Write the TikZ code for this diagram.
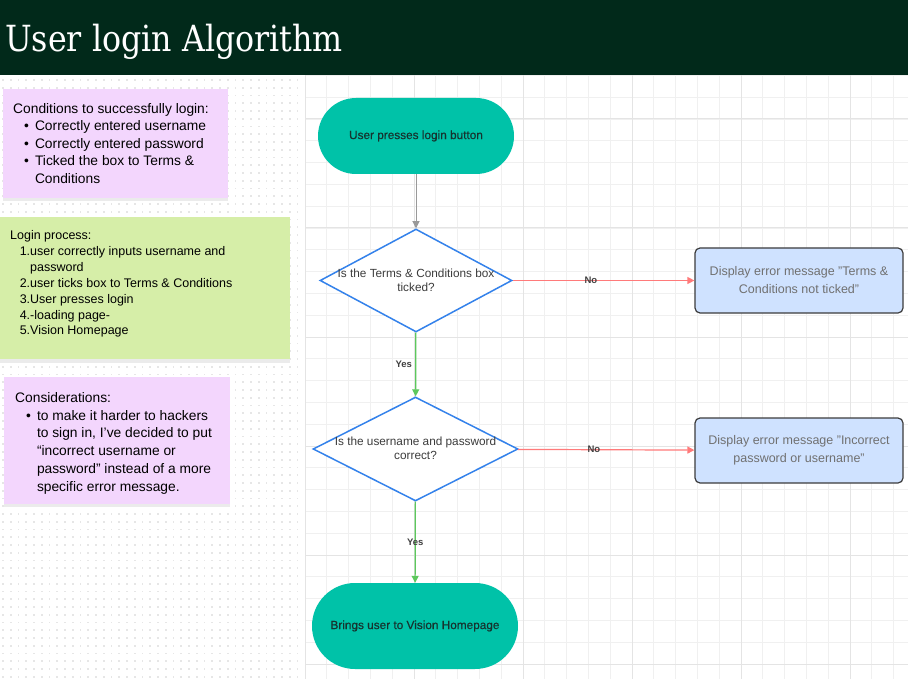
\documentclass[tikz,border=0pt]{standalone}
\usepackage{fontspec}
\setmainfont{Liberation Sans}
\newfontfamily\titlefont[FakeStretch=0.88]{DejaVu Serif}
\newfontfamily\flowfont[FakeBold=0.5]{Liberation Sans}
\usetikzlibrary{shapes.geometric,positioning,arrows.meta}

\definecolor{headbg}{RGB}{1,41,26}
\definecolor{notepink}{RGB}{243,214,253}
\definecolor{notegreen}{RGB}{214,238,168}
\definecolor{termteal}{RGB}{0,194,168}
\definecolor{termtext}{RGB}{22,52,47}
\definecolor{decblue}{RGB}{52,130,235}
\definecolor{dectext}{RGB}{60,60,60}
\definecolor{nored}{RGB}{255,122,122}
\definecolor{yesgreen}{RGB}{92,200,92}
\definecolor{errfill}{RGB}{207,226,255}
\definecolor{errdraw}{RGB}{60,60,60}
\definecolor{errtext}{RGB}{112,112,112}
\definecolor{gridminor}{RGB}{240,240,240}
\definecolor{gridmajor}{RGB}{228,228,228}
\definecolor{dotgray}{RGB}{230,230,230}

\newcommand{\itm}[1]{\hspace*{11pt}\textbullet\hspace{6pt}#1}

\begin{document}
\begin{tikzpicture}[x=1pt,y=-1pt,>={Triangle[length=7pt,width=7pt]},
	notebox/.style={rectangle,anchor=north west,inner sep=0pt},
	notetext/.style={anchor=north west,inner sep=0pt,align=left,text=black},
	terminal/.style={rectangle,fill=termteal,text=termtext,font=\flowfont\fontsize{11.8}{14}\selectfont},
	decision/.style={diamond,draw=decblue,line width=1.5pt,fill=white,inner sep=0pt},
	decision text/.style={align=center,text=dectext,font=\fontsize{11.8}{13.6}\selectfont},
	errbox/.style={rectangle,rounded corners=5pt,draw=errdraw,line width=1.2pt,fill=errfill,text=errtext,align=center,minimum width=208pt,minimum height=65pt,font=\fontsize{12.5}{18}\selectfont},
	lbl/.style={font=\bfseries\fontsize{9.5}{10}\selectfont,text=black!75,inner sep=1pt},
	flowgray/.style={->,draw=black!40,line width=1pt},
	flowred/.style={->,draw=nored,line width=1.2pt},
	flowgreen/.style={->,draw=yesgreen,line width=1.2pt}]
	\useasboundingbox (0,0) rectangle (908,679);
	% background
	\fill[white] (0,0) rectangle (908,679);
	\foreach \i in {0,...,38}
		\foreach \j in {0,...,77}
			\fill[dotgray] ({3+7.75*\i-0.8},{80+7.75*\j-0.8}) rectangle +(1.6,1.6);
	\foreach \k in {0,...,27}
		\draw[gridminor,line width=0.8pt] ({305+21.8*\k},75) -- ({305+21.8*\k},679);
	\foreach \k in {-2,...,25}
		\draw[gridminor,line width=0.8pt] (305,{119+21.8*\k}) -- (908,{119+21.8*\k});
	\foreach \k in {0,...,5}
		\draw[gridmajor,line width=1pt] ({305+109*\k},75) -- ({305+109*\k},679);
	\foreach \k in {0,...,5}
		\draw[gridmajor,line width=1pt] (305,{119+109*\k}) -- (908,{119+109*\k});
	% title
	\fill[headbg] (0,0) rectangle (908,75);
	\node[anchor=base west,inner sep=0pt,text=white,font=\titlefont\fontsize{36}{40}\selectfont] (title) at (5,52) {User login Algorithm};

	% notes
	\fill[black!8] (3,91) rectangle (228,201);
	\node[notebox,fill=notepink,minimum width=225pt,minimum height=109pt] (condbox) at (3,89) {};
	\node[notetext,font=\fontsize{13.8}{17.5}\selectfont] (condtext) at (13,103) {Conditions to successfully login:\\
		\itm{Correctly entered username}\\
		\itm{Correctly entered password}\\
		\itm{Ticked the box to Terms \&}\\
		\hspace*{21.8pt}Conditions};

	\fill[black!8] (0,219) rectangle (290,363);
	\node[notebox,fill=notegreen,minimum width=290pt,minimum height=142pt] (procbox) at (0,217) {};
	\node[notetext,font=\fontsize{12.5}{15.85}\selectfont] (proctext) at (10,230.5) {Login process:\\
		\makebox[20pt][r]{1.}user correctly inputs username and\\
		\hspace*{20pt}password\\
		\makebox[20pt][r]{2.}user ticks box to Terms \& Conditions\\
		\makebox[20pt][r]{3.}User presses login\\
		\makebox[20pt][r]{4.}-loading page-\\
		\makebox[20pt][r]{5.}Vision Homepage};

	\fill[black!8] (4,379) rectangle (230,507);
	\node[notebox,fill=notepink,minimum width=226pt,minimum height=127pt] (consbox) at (4,377) {};
	\node[notetext,font=\fontsize{13.8}{17.8}\selectfont] (constext) at (15,392) {Considerations:\\
		\itm{to make it harder to hackers}\\
		\hspace*{21.8pt}to sign in, I’ve decided to put\\
		\hspace*{21.8pt}“incorrect username or\\
		\hspace*{21.8pt}password” instead of a more\\
		\hspace*{21.8pt}specific error message.};

	% flowchart
	\node[terminal,rounded corners=38pt,minimum width=196pt,minimum height=76pt] (start) at (416,136) {User presses login button};
	\node[decision,minimum width=192pt,minimum height=103pt] (terms) at (416,280.5) {};
	\node[decision text] (termsq) at (terms) {Is the Terms \& Conditions box\\ticked?};
	\node[errbox] (termserr) at (799,280.5) {Display error message "Terms \&\\Conditions not ticked"};
	\node[decision,minimum width=205pt,minimum height=104pt] (cred) at (415.5,449) {};
	\node[decision text] (credq) at ([yshift=1pt]cred) {Is the username and password\\correct?};
	\node[errbox] (crederr) at (799,450.5) {Display error message "Incorrect\\password or username"};
	\node[terminal,rounded corners=43pt,minimum width=206pt,minimum height=86pt] (home) at (415,626) {Brings user to Vision Homepage};

	\path
	(start) edge[flowgray] (terms)
	(terms) edge[flowred] node[lbl,pos=0.43] {No} (termserr)
	(terms) edge[flowgreen] node[lbl,xshift=-12pt] {Yes} (cred)
	(cred) edge[flowred] node[lbl,pos=0.43] {No} (crederr)
	(cred) edge[flowgreen] node[lbl] {Yes} (home);
\end{tikzpicture}
\end{document}
